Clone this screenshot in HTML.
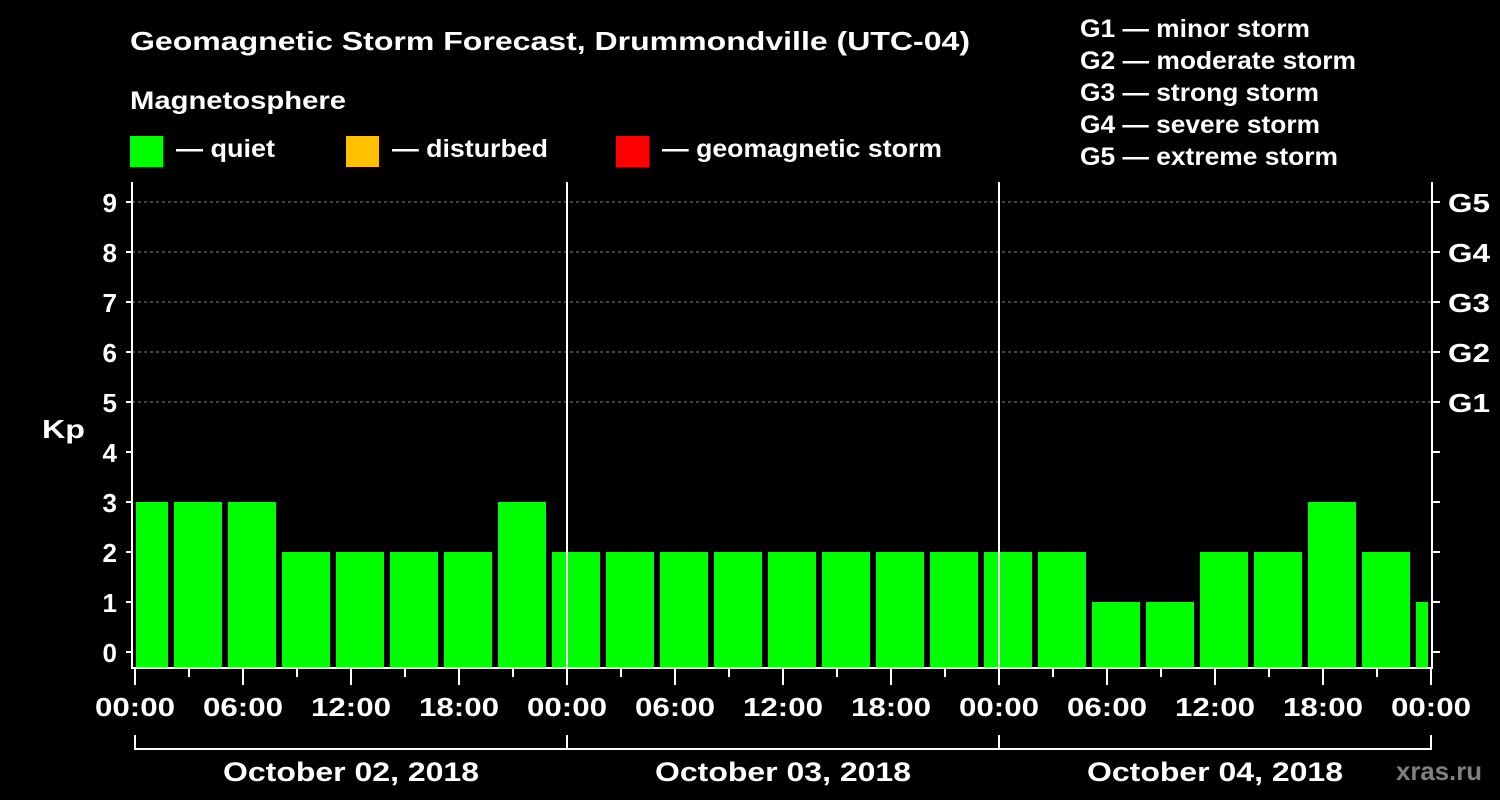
<!DOCTYPE html>
<html><head><meta charset="utf-8"><style>
body{margin:0;background:#000;}
svg{display:block;font-family:"Liberation Sans",Arial,sans-serif;font-weight:bold;}
</style></head><body>
<svg id="chart" width="1500" height="800" viewBox="0 0 1500 800">
<rect width="1500" height="800" fill="#000"/>
<text x="130" y="50" fill="#fff" font-size="26" textLength="840" lengthAdjust="spacingAndGlyphs">Geomagnetic Storm Forecast, Drummondville (UTC-04)</text>
<text x="130" y="109" fill="#fff" font-size="25" textLength="216" lengthAdjust="spacingAndGlyphs">Magnetosphere</text>
<g><rect x="130" y="136" width="33" height="31" fill="#00ff00"/><text x="176" y="157" fill="#fff" font-size="25" textLength="99" lengthAdjust="spacingAndGlyphs">— quiet</text></g>
<g><rect x="346" y="136" width="33" height="31" fill="#ffc000"/><text x="392" y="157" fill="#fff" font-size="25" textLength="156" lengthAdjust="spacingAndGlyphs">— disturbed</text></g>
<g><rect x="616" y="136" width="33" height="31" fill="#ff0000"/><text x="662" y="157" fill="#fff" font-size="25" textLength="280" lengthAdjust="spacingAndGlyphs">— geomagnetic storm</text></g>
<g fill="#fff" font-size="25" lengthAdjust="spacingAndGlyphs">
<text x="1080" y="37" textLength="230" lengthAdjust="spacingAndGlyphs">G1 — minor storm</text>
<text x="1080" y="69" textLength="276" lengthAdjust="spacingAndGlyphs">G2 — moderate storm</text>
<text x="1080" y="101" textLength="239" lengthAdjust="spacingAndGlyphs">G3 — strong storm</text>
<text x="1080" y="133" textLength="240" lengthAdjust="spacingAndGlyphs">G4 — severe storm</text>
<text x="1080" y="165" textLength="258" lengthAdjust="spacingAndGlyphs">G5 — extreme storm</text>
</g>
<text x="42" y="438" fill="#fff" font-size="26" textLength="43" lengthAdjust="spacingAndGlyphs">Kp</text>
<text x="1396" y="780" fill="#808080" font-size="26" textLength="86" lengthAdjust="spacingAndGlyphs">xras.ru</text>
<g id="grid"></g><g id="bars"></g><g id="axes"></g>
</svg>
<script>
const kpValues=[3,3,3,2,2,2,2,3,2,2,2,2,2,2,2,2,2,2,1,1,2,2,3,2,1];
const yTicks=[0,1,2,3,4,5,6,7,8,9];
const gLabels=["G1","G2","G3","G4","G5"];
const dayLabels=["October 02, 2018","October 03, 2018","October 04, 2018"];
const hourLabels=["00:00","06:00","12:00","18:00"];
const startHour=-1;
const NS="http://www.w3.org/2000/svg";
const X0=135,PXH=18,Y0=652,PXK=50,LEFT=132,RIGHT=1432,TOP=182,BOT=668;
const xs=h=>X0+h*PXH, ys=k=>Y0-k*PXK;
function mk(p,t,a){const e=document.createElementNS(NS,t);for(const k in a)e.setAttribute(k,a[k]);p.appendChild(e);return e;}
const grid=document.getElementById('grid'),bars=document.getElementById('bars'),axes=document.getElementById('axes');
yTicks.forEach(k=>{
 if(k>=5){const l=mk(grid,'line',{x1:LEFT,x2:RIGHT,y1:ys(k),y2:ys(k),stroke:'#888','stroke-dasharray':'3,3','stroke-width':1});
 
 }
 const t=mk(axes,'text',{x:117,y:ys(k)+10,fill:'#fff','font-size':26,'text-anchor':'end'});t.textContent=k;
 
 
 mk(axes,'line',{x1:LEFT-6,x2:LEFT,y1:ys(k),y2:ys(k),stroke:'#fff','stroke-width':2});
 mk(axes,'line',{x1:RIGHT,x2:RIGHT+8,y1:ys(k),y2:ys(k),stroke:'#fff','stroke-width':2});
});
gLabels.forEach((g,i)=>{const t=mk(axes,'text',{x:1448,y:ys(5+i)+10,fill:'#fff','font-size':26,textLength:42,lengthAdjust:'spacingAndGlyphs'});t.textContent=g;
 
 });
kpValues.forEach((v,i)=>{
 const s=startHour+3*i;let x1=xs(s)+3,x2=xs(s+3)-3;x1=Math.max(x1,LEFT+4);x2=Math.min(x2,RIGHT-4);
 const col=v>=5?'#ff0000':(v>=4?'#ffc000':'#00ff00');
 const r=mk(bars,'rect',{x:x1,y:ys(v),width:x2-x1,height:BOT-1-ys(v),fill:col});
 
 
});
for(let d=1;d<3;d++){const l=mk(axes,'line',{x1:xs(24*d),x2:xs(24*d),y1:TOP,y2:BOT,stroke:'#fff','stroke-width':2});
 
 }
const fr=mk(axes,'path',{d:`M${LEFT} ${TOP}V${BOT}H${RIGHT}V${TOP}`,fill:'none',stroke:'#fff','stroke-width':2});


for(let h=0;h<=72;h+=3){
 mk(axes,'line',{x1:xs(h),x2:xs(h),y1:BOT,y2:h%6==0?BOT+17:BOT+9,stroke:'#fff','stroke-width':2});
 if(h%6==0){const t=mk(axes,'text',{x:xs(h)-40,y:716,fill:'#fff','font-size':26,textLength:80,lengthAdjust:'spacingAndGlyphs'});t.textContent=hourLabels[(h/6)%4];
 
 }
}
mk(axes,'path',{d:`M${xs(0)} 735V749H${xs(72)}V735`,fill:'none',stroke:'#fff','stroke-width':2});
dayLabels.forEach((d,i)=>{
 if(i>0)mk(axes,'line',{x1:xs(24*i),x2:xs(24*i),y1:735,y2:749,stroke:'#fff','stroke-width':2});
 const t=mk(axes,'text',{x:xs(24*i+12)-128,y:781,fill:'#fff','font-size':27,textLength:256,lengthAdjust:'spacingAndGlyphs'});t.textContent=d;
 
 
});
</script>
</body></html>
